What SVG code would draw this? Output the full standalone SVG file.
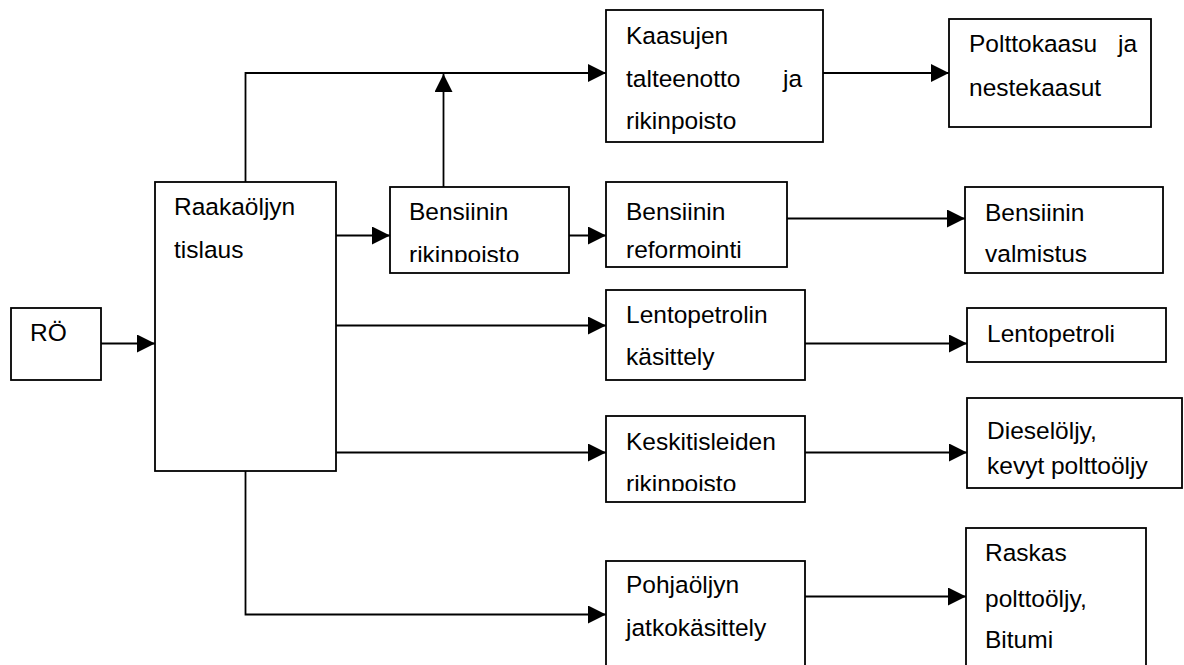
<svg xmlns="http://www.w3.org/2000/svg" width="1184" height="665" viewBox="0 0 1184 665">
<style>
.box{fill:#fff;stroke:#000;stroke-width:1.8}
.t{font-family:"Liberation Sans",Arial,sans-serif;font-size:24.5px;fill:#000}
.c{fill:none;stroke:#000;stroke-width:1.8}
</style>
<defs>
<marker id="ah" markerUnits="userSpaceOnUse" markerWidth="18" markerHeight="18" refX="18" refY="9" orient="auto">
<path d="M0,0 L18,9 L0,18 Z" fill="#000"/>
</marker>
<clipPath id="clipBRik"><rect x="390" y="187" width="179" height="75"/></clipPath>
<clipPath id="clipKesk"><rect x="606" y="416" width="199" height="75"/></clipPath>
</defs>
<rect width="1184" height="665" fill="#fff"/>
<g id="connectors">
<path class="c" d="M101,343.5 H155" marker-end="url(#ah)"/>
<path class="c" d="M245.5,182 V73 H606" marker-end="url(#ah)"/>
<path class="c" d="M336,235.5 H390" marker-end="url(#ah)"/>
<path class="c" d="M443.5,187 V74" marker-end="url(#ah)"/>
<path class="c" d="M569,235.5 H606" marker-end="url(#ah)"/>
<path class="c" d="M823,73 H949" marker-end="url(#ah)"/>
<path class="c" d="M787,218.5 H965" marker-end="url(#ah)"/>
<path class="c" d="M336,325.5 H606" marker-end="url(#ah)"/>
<path class="c" d="M805,343.5 H967" marker-end="url(#ah)"/>
<path class="c" d="M336,452.5 H606" marker-end="url(#ah)"/>
<path class="c" d="M805,452.5 H967" marker-end="url(#ah)"/>
<path class="c" d="M245.5,471 V614.5 H606" marker-end="url(#ah)"/>
<path class="c" d="M805,596.5 H966" marker-end="url(#ah)"/>
</g>
<g id="ro">
<rect class="box" x="11" y="308" width="90" height="72"/>
<text class="t" x="30" y="341">RÖ</text>
</g>
<g id="raakaoljyn">
<rect class="box" x="155" y="182" width="181" height="289"/>
<text class="t" x="174" y="215">Raakaöljyn</text>
<text class="t" x="174" y="258">tislaus</text>
</g>
<g id="bensiinin-rikinpoisto">
<rect class="box" x="390" y="187" width="179" height="86"/>
<g clip-path="url(#clipBRik)">
<text class="t" x="409" y="220">Bensiinin</text>
<text class="t" x="409" y="263">rikinpoisto</text>
</g>
</g>
<g id="kaasujen">
<rect class="box" x="606" y="10" width="217" height="132"/>
<text class="t" x="626" y="44">Kaasujen</text>
<text class="t" x="626" y="87">talteenotto</text>
<text class="t" x="783" y="87">ja</text>
<text class="t" x="626" y="129">rikinpoisto</text>
</g>
<g id="polttokaasu">
<rect class="box" x="949" y="19" width="202" height="108"/>
<text class="t" x="969" y="52">Polttokaasu</text>
<text class="t" x="1118" y="52">ja</text>
<text class="t" x="969" y="96">nestekaasut</text>
</g>
<g id="bensiinin-reformointi">
<rect class="box" x="606" y="182" width="181" height="85"/>
<text class="t" x="626" y="220">Bensiinin</text>
<text class="t" x="626" y="258">reformointi</text>
</g>
<g id="bensiinin-valmistus">
<rect class="box" x="965" y="187" width="198" height="86"/>
<text class="t" x="985" y="221">Bensiinin</text>
<text class="t" x="985" y="262">valmistus</text>
</g>
<g id="lentopetrolin-kasittely">
<rect class="box" x="606" y="290" width="199" height="90"/>
<text class="t" x="626" y="323">Lentopetrolin</text>
<text class="t" x="626" y="365">käsittely</text>
</g>
<g id="lentopetroli">
<rect class="box" x="967" y="308" width="199" height="54"/>
<text class="t" x="987" y="342">Lentopetroli</text>
</g>
<g id="keskitisleiden">
<rect class="box" x="606" y="416" width="199" height="86"/>
<g clip-path="url(#clipKesk)">
<text class="t" x="626" y="450">Keskitisleiden</text>
<text class="t" x="626" y="492">rikinpoisto</text>
</g>
</g>
<g id="dieseloljy">
<rect class="box" x="967" y="398" width="215" height="90"/>
<text class="t" x="987" y="439">Dieselöljy,</text>
<text class="t" x="987" y="474">kevyt polttoöljy</text>
</g>
<g id="pohjaoljyn">
<rect class="box" x="606" y="561" width="199" height="120"/>
<text class="t" x="626" y="593">Pohjaöljyn</text>
<text class="t" x="626" y="636">jatkokäsittely</text>
</g>
<g id="raskas">
<rect class="box" x="966" y="528" width="180" height="150"/>
<text class="t" x="985" y="561">Raskas</text>
<text class="t" x="985" y="607">polttoöljy,</text>
<text class="t" x="985" y="648">Bitumi</text>
</g>
</svg>
